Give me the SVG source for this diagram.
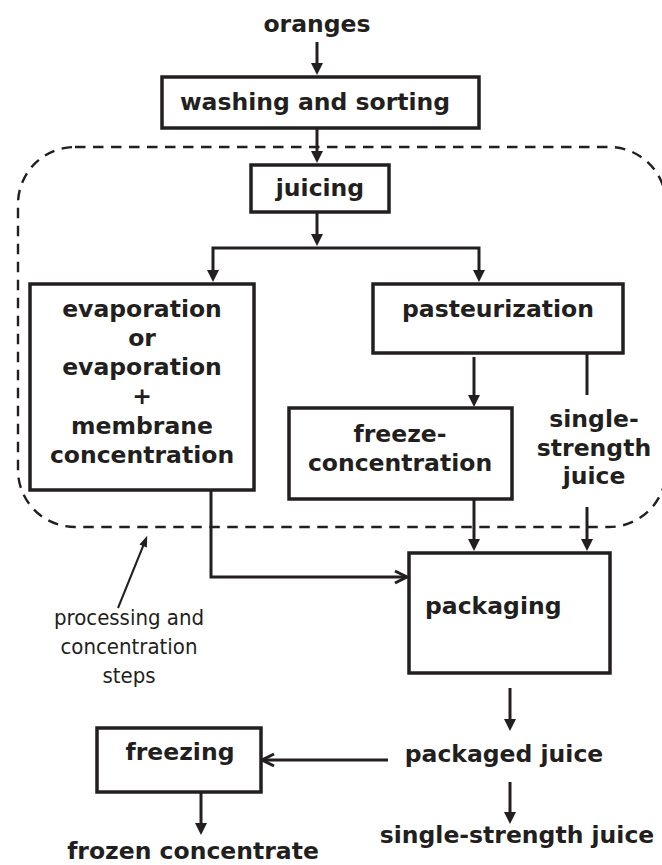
<svg xmlns="http://www.w3.org/2000/svg" width="662" height="865" viewBox="0 0 662 865">
<style>
.box{fill:#fff;stroke:#231f20;stroke-width:3.5}
.lbl{font-family:"DejaVu Sans","Verdana",sans-serif;font-weight:bold;font-size:23.5px;fill:#231f20;text-anchor:middle}
.ann{font-family:"DejaVu Sans Condensed","DejaVu Sans",sans-serif;font-stretch:condensed;font-size:22px;fill:#231f20;text-anchor:middle}
.c{fill:none;stroke:#231f20;stroke-width:3}
.dash{fill:none;stroke:#231f20;stroke-width:2.4;stroke-dasharray:10.5 7.5}
</style>
<defs>
<marker id="tri" markerUnits="userSpaceOnUse" markerWidth="13" markerHeight="13" refX="1" refY="6" orient="auto" viewBox="0 0 13 12" overflow="visible">
<path d="M0,0 L12,6 L0,12 z" fill="#231f20"/>
</marker>
<marker id="tris" markerUnits="userSpaceOnUse" markerWidth="12" markerHeight="12" refX="1" refY="4" orient="auto" viewBox="0 0 12 8" overflow="visible">
<path d="M0,0 L11,4 L0,8 z" fill="#231f20"/>
</marker>
<marker id="chev" markerUnits="userSpaceOnUse" markerWidth="16" markerHeight="16" refX="13" refY="7" orient="auto" viewBox="0 0 16 14" overflow="visible">
<path d="M1,1 L13,7 L1,13" fill="none" stroke="#231f20" stroke-width="3"/>
</marker>
</defs>

<rect id="region" class="dash" x="18" y="147" width="648" height="380" rx="57" ry="57"/>

<g id="connectors">
<path class="c" d="M317,42 V64" marker-end="url(#tri)"/>
<path class="c" d="M317,128 V152" marker-end="url(#tri)"/>
<path class="c" d="M317,212 V235" marker-end="url(#tri)"/>
<path class="c" d="M213,272 V248 H479 V272"/>
<path class="c" d="M213,270 V271" marker-end="url(#tri)"/>
<path class="c" d="M479,270 V271" marker-end="url(#tri)"/>
<path class="c" d="M474,357 V396" marker-end="url(#tri)"/>
<path class="c" d="M587,343 V395"/>
<path class="c" d="M587,507 V540" marker-end="url(#tri)"/>
<path class="c" d="M474,499 V540" marker-end="url(#tri)"/>
<path class="c" d="M211,490 V577 H407" marker-end="url(#chev)"/>
<path class="c" d="M510,688 V720" marker-end="url(#tri)"/>
<path class="c" d="M510,782 V813" marker-end="url(#tri)"/>
<path class="c" d="M388,760 H262" marker-end="url(#chev)"/>
<path class="c" d="M201,792 V824" marker-end="url(#tri)"/>
<path class="c" style="stroke-width:2" d="M118,608 L143.5,545" marker-end="url(#tris)"/>
</g>

<g id="oranges"><text class="lbl" x="317" y="32">oranges</text></g>
<g id="washing"><rect class="box" x="162" y="77" width="317" height="51"/><text class="lbl" x="315" y="110">washing and sorting</text></g>
<g id="juicing"><rect class="box" x="251" y="165" width="138" height="47"/><text class="lbl" x="320" y="196">juicing</text></g>
<g id="evaporation"><rect class="box" x="30" y="284" width="224" height="206"/>
<text class="lbl" x="142" y="317">evaporation</text>
<text class="lbl" x="142" y="346">or</text>
<text class="lbl" x="142" y="375">evaporation</text>
<text class="lbl" x="142" y="404">+</text>
<text class="lbl" x="142" y="434">membrane</text>
<text class="lbl" x="142" y="463">concentration</text>
</g>
<g id="pasteurization"><rect class="box" x="373" y="284" width="250" height="69"/><text class="lbl" x="498" y="317">pasteurization</text></g>
<g id="freeze"><rect class="box" x="289" y="408" width="223" height="91"/>
<text class="lbl" x="400" y="442">freeze-</text>
<text class="lbl" x="400" y="471">concentration</text>
</g>
<g id="single1">
<text class="lbl" x="594" y="427">single-</text>
<text class="lbl" x="594" y="456">strength</text>
<text class="lbl" x="594" y="484">juice</text>
</g>
<g id="packaging"><rect class="box" x="409" y="553" width="201" height="120"/><text class="lbl" x="425" y="614" style="text-anchor:start">packaging</text></g>
<g id="packaged"><text class="lbl" x="504" y="762">packaged juice</text></g>
<g id="freezing"><rect class="box" x="97" y="728" width="164" height="64"/><text class="lbl" x="180" y="760">freezing</text></g>
<g id="frozen"><text class="lbl" x="193" y="859">frozen concentrate</text></g>
<g id="single2"><text class="lbl" x="517" y="843">single-strength juice</text></g>
<g id="annotation">
<text class="ann" x="129" y="625">processing and</text>
<text class="ann" x="129" y="654">concentration</text>
<text class="ann" x="129" y="683">steps</text>
</g>
</svg>
